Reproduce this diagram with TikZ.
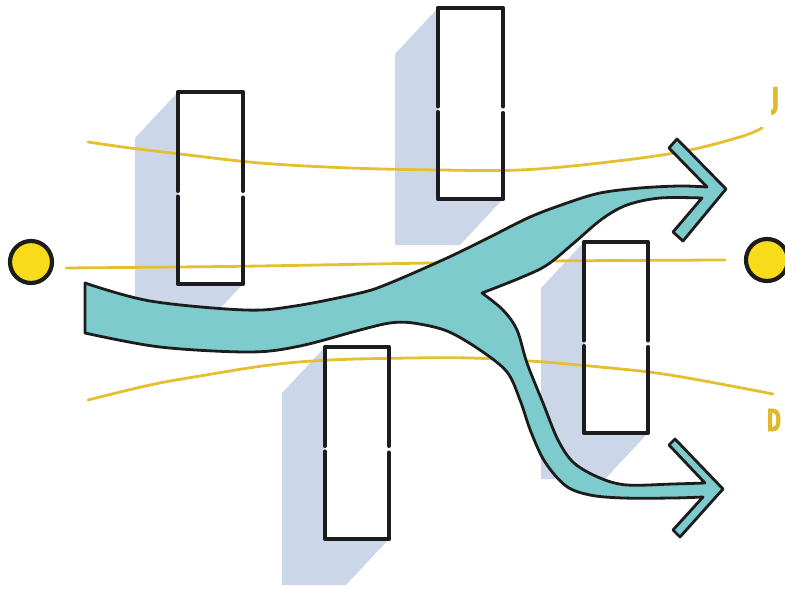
\documentclass[tikz,border=0pt]{standalone}
\usepackage{fontspec}
\newfontfamily\labfont{Fira Sans}[FakeBold=2.5]
\definecolor{flowc}{RGB}{125,203,204}
\definecolor{shadowc}{RGB}{203,214,232}
\definecolor{yline}{RGB}{228,192,48}
\definecolor{ylab}{RGB}{224,184,42}
\definecolor{dotc}{RGB}{248,219,26}
\definecolor{ink}{RGB}{28,28,28}
\tikzset{
  shadowbox/.style={fill=shadowc},
  boxfill/.style={fill=white},
  boxline/.style={draw=ink, line width=4.6pt, line cap=round, line join=round},
  guide/.style={draw=yline, line width=2.8pt, line cap=round},
  flowshape/.style={fill=flowc, draw=ink, line width=2.8pt, line join=round},
  dot/.style={circle, fill=dotc, draw=ink, line width=4.2pt, minimum size=42pt, inner sep=0pt},
  lab/.style={text=ylab, font=\labfont\bfseries\fontsize{32}{32}\selectfont, inner sep=0pt}
}
\begin{document}
\begin{tikzpicture}[x=1pt,y=-1pt]
\useasboundingbox (0,0) rectangle (785,591);

% shadows
\foreach \a/\b/\c/\d in {178/92/243/284, 438/8/503/199, 325/347/389/539, 584/242/648/433}{
  \fill[shadowbox] (\a,\b) -- ({\a-43},{\b+46}) -- ({\a-43},{\d+46}) -- ({\c-43},{\d+46}) -- (\c,\d) -- (\c,\b) -- cycle;
  \fill[boxfill] (\a,\b) rectangle (\c,\d);
}

% guide lines
\draw[guide] plot[smooth, tension=0.6] coordinates {(88,142) (130,148) (180,154) (260,163) (350,168) (440,170) (520,170) (600,163) (680,152) (740,137) (762,128)};
\draw[guide] plot[smooth, tension=0.6] coordinates {(66,268) (177,267) (260,266) (430,263) (550,261) (725,260)};
\draw[guide] plot[smooth, tension=0.6] coordinates {(88,400) (150,385) (200,376) (270,365) (330,360) (410,358) (470,358) (530,361) (600,367) (670,375) (773,394)};

% flow
\coordinate (s1) at (85,283);
\coordinate (s2) at (85,333);
\path[flowshape] (s1) -- plot[smooth, tension=0.55] coordinates {(85,283) (150,301) (245,310) (295,306) (360,293) (390,283) (447,258) (490,237) (530,217) (567,203) (600,193) (640,188) (680,186) (707,187)}
  -- (669,148) -- (677,139) -- (726,189) -- (683,241) -- (673,232) -- (702,198)
  -- plot[smooth, tension=0.55] coordinates {(702,198) (660,198) (627,205) (602,219) (575,242) (547,265) (520,278) (482,293)}
  -- plot[smooth, tension=0.55] coordinates {(482,293) (503,310) (517,330) (527,363) (543,403) (558,440) (574,463) (600,478) (627,485) (673,484) (705,483)}
  -- (669,445) -- (675,439) -- (723,489) -- (680,537) -- (673,530) -- (703,497)
  -- plot[smooth, tension=0.55] coordinates {(703,497) (673,498) (623,498) (590,495) (566,486) (545,462) (531,432) (520,400) (507,372) (480,350) (447,331) (413,323) (390,323) (360,330) (300,346) (250,352) (160,347) (85,333)}
  -- cycle;

% boxes with small hand-drawn breaks
\foreach \a/\b/\c/\d in {178/92/243/284, 438/8/503/199, 325/347/389/539, 584/242/648/433}{
  \pgfmathsetmacro{\m}{\b+0.53*(\d-\b)}
  \draw[boxline] (\a,{\m-3}) -- (\a,\b) -- (\c,\b) -- (\c,{\m-3});
  \draw[boxline] (\c,{\m+4}) -- (\c,\d) -- (\a,\d) -- (\a,{\m+3});
}

% end dots
\node[dot] (left) at (31,262) {};
\node[dot] (right) at (767,260) {};

% labels
\node[lab] (J) at (775,101) {\scalebox{0.75}[1]{J}};
\node[lab] (D) at (774,420) {\scalebox{0.66}[1]{D}};
\end{tikzpicture}
\end{document}
